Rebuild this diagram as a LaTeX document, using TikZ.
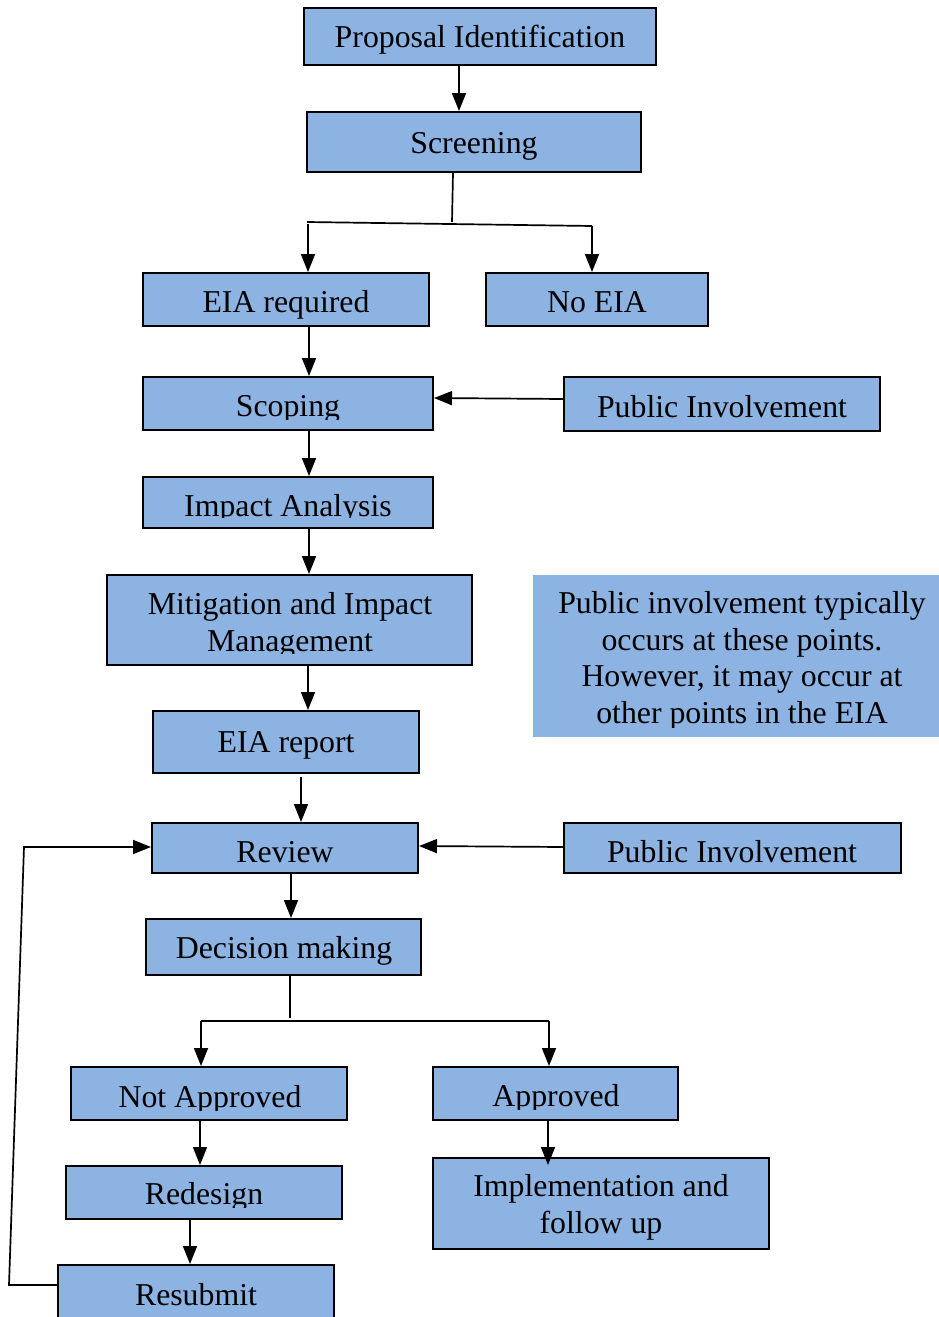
\documentclass[tikz,border=0pt]{standalone}
\usepackage{fontspec}
\setmainfont{Liberation Serif}
\usetikzlibrary{arrows.meta}
\definecolor{boxblue}{RGB}{141,179,226}
\begin{document}
\begin{tikzpicture}[x=1pt,y=-1pt,
  box/.style={draw=black,line width=2pt,fill=boxblue,inner sep=0pt},
  notebox/.style={fill=boxblue,draw=none,inner sep=0pt},
  lbl/.style={anchor=base,inner sep=0pt,font=\fontsize{31.8}{36.5}\selectfont,align=center},
  conn/.style={line width=1.7pt,-{Triangle[length=18pt,width=14pt]}},
  plain/.style={line width=1.7pt}]
\useasboundingbox (0,0) rectangle (939,1317);
% helper: box from corners
\newcommand{\bx}[5]{\node[box,minimum width=#4-#2,minimum height=#5-#3] (#1) at ({(#2+#4)/2},{(#3+#5)/2}) {};}
\newcommand{\tx}[5]{\begin{scope}\clip (0,0) rectangle (939,#4);\node[lbl] (#1) at (#2,#3) {#5};\end{scope}}
\bx{pid}{304}{8}{656}{65}
\bx{scr}{307}{112}{641}{172}
\bx{eia}{143}{273}{429}{326}
\bx{noeia}{486}{273}{708}{326}
\bx{scop}{143}{377}{433}{430}
\bx{pi1}{564}{377}{880}{431}
\bx{imp}{143}{477}{433}{528}
\bx{mit}{107}{575}{472}{665}
\node[notebox,minimum width=406,minimum height=162] (note) at (736,656) {};
\bx{rep}{153}{711}{419}{773}
\bx{rev}{152}{823}{418}{873}
\bx{pi2}{564}{823}{901}{873}
\bx{dec}{146}{919}{421}{975}
\bx{nap}{71}{1067}{347}{1120}
\bx{app}{433}{1067}{678}{1120}
\bx{red}{66}{1166}{342}{1219}
\bx{impl}{433}{1158}{769}{1249}
\bx{res}{58}{1265}{334}{1340}
% labels (multi-line: y is the baseline of the last line)
\tx{pidt}{480}{47}{64}{Proposal Identification}
\tx{scrt}{474}{153}{171}{Screening}
\tx{eiat}{286}{312}{325}{EIA required}
\tx{noeiat}{597}{312}{325}{No EIA}
\tx{scopt}{288}{416}{419}{Scoping}
\tx{pi1t}{722}{417}{430}{Public Involvement}
\tx{impt}{288}{516}{517}{Impact Analysis}
\tx{mitt}{290}{651}{653}{Mitigation and Impact\\Management}
\tx{notet}{742}{723}{727}{Public involvement typically\\occurs at these points.\\However, it may occur at\\other points in the EIA}
\tx{rept}{286}{752}{772}{EIA report}
\tx{revt}{285}{862}{872}{Review}
\tx{pi2t}{732}{862}{872}{Public Involvement}
\tx{dect}{284}{958}{964}{Decision making}
\tx{napt}{210}{1107}{1110}{Not Approved}
\tx{appt}{556}{1106}{1109}{Approved}
\tx{redt}{204}{1204}{1207}{Redesign}
\tx{implt}{601}{1233}{1248}{Implementation and\\follow up}
\tx{rest}{196}{1305}{1317}{Resubmit}
% connectors
\draw[conn] (pid.south -| 459,0) -- (scr.north -| 459,0);
\coordinate (s1) at (452,222);
\coordinate (sl) at (307,222);
\coordinate (sr) at (592,226);
\draw[plain] (scr.south -| 453,0) -- (s1);
\draw[plain] (sl) -- (sr);
\draw[conn] (308,224) -- (eia.north -| 308,0);
\draw[conn] (sr) -- (noeia.north -| 592,0);
\draw[conn] (eia.south -| 309,0) -- (scop.north -| 309,0);
\draw[conn] (pi1.west |- 0,399) -- (scop.east |- 0,398);
\draw[conn] (scop.south -| 309,0) -- (imp.north -| 309,0);
\draw[conn] (imp.south -| 309,0) -- (mit.north -| 309,0);
\draw[conn] (mit.south -| 308,0) -- (rep.north -| 308,0);
\draw[conn] (301,777) -- (rev.north -| 301,0);
\draw[conn] (pi2.west |- 0,847) -- (rev.east |- 0,846);
\draw[conn] (rev.south -| 291,0) -- (dec.north -| 291,0);
\coordinate (d1) at (290,1018);
\coordinate (dl) at (201,1021);
\coordinate (dr) at (549,1021);
\draw[plain] (dec.south -| 290,0) -- (d1);
\draw[plain] (dl) -- (dr);
\draw[conn] (dl) -- (nap.north -| 201,0);
\draw[conn] (dr) -- (app.north -| 549,0);
\draw[conn] (nap.south -| 200,0) -- (red.north -| 200,0);
\draw[conn] (app.south -| 548,0) -- (548,1165);
\draw[conn] (red.south -| 190,0) -- (res.north -| 190,0);
\coordinate (l1) at (9,1285);
\coordinate (l2) at (24,847);
\draw[conn] (res.west |- 0,1285) -- (l1) -- (l2) -- (rev.west |- 0,847);
\end{tikzpicture}
\end{document}
